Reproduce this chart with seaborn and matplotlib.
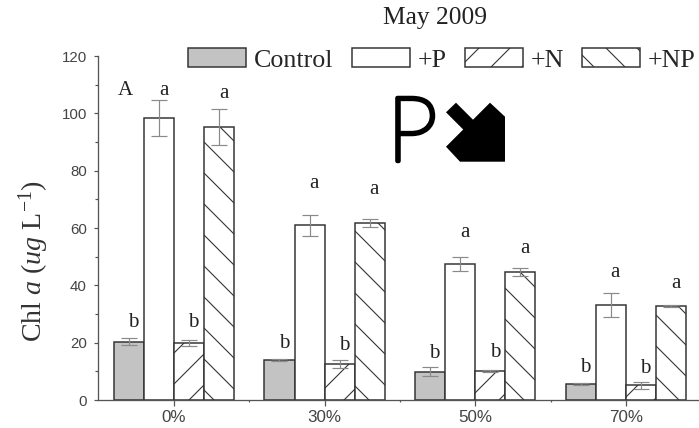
import matplotlib
matplotlib.use("Agg")
import matplotlib.pyplot as plt
import matplotlib.patheffects as pe
from matplotlib.patches import Patch, Polygon
from matplotlib.ticker import MultipleLocator, FixedLocator
import pandas as pd
import seaborn as sns

# ---- data -------------------------------------------------------------
shading = ["0%", "30%", "50%", "70%"]
treatments = ["Control", "+P", "+N", "+NP"]

chl_control = [20.3, 14.0, 9.9, 5.6]
chl_p = [98.5, 60.9, 47.4, 33.1]
chl_n = [19.8, 12.6, 10.2, 5.2]
chl_np = [95.1, 61.6, 44.6, 32.8]

err_control = [1.2, 0.4, 1.7, 0.5]
err_p = [6.3, 3.8, 2.5, 4.2]
err_n = [1.0, 1.4, 0.4, 1.2]
err_np = [6.3, 1.4, 1.5, 0.5]

sig_control = ["b", "b", "b", "b"]
sig_p = ["a", "a", "a", "a"]
sig_n = ["b", "b", "b", "b"]
sig_np = ["a", "a", "a", "a"]

sig_y_control = [25.5, 18.1, 14.6, 9.8]
sig_y_p = [106.4, 74.0, 56.9, 42.9]
sig_y_n = [25.5, 17.4, 15.0, 9.4]
sig_y_np = [105.3, 71.9, 51.3, 39.0]

# ---- styling ----------------------------------------------------------
DPI = 186
W_PX, H_PX = 699, 428


def pt(px):
    """Convert a pixel size to points at the figure resolution."""
    return px * 72.0 / DPI


sns.set_style("ticks")
plt.rcParams["font.family"] = ["Liberation Serif", "DejaVu Serif"]
plt.rcParams["mathtext.fontset"] = "custom"
plt.rcParams["mathtext.rm"] = "Liberation Serif"
plt.rcParams["mathtext.it"] = "Liberation Serif:italic"
plt.rcParams["hatch.linewidth"] = pt(1.1)

EDGE = "#333333"
AXIS = "#555555"
colors = {"Control": "#c3c3c3", "+P": "white", "+N": "white", "+NP": "white"}
hatches = {"Control": "", "+P": "", "+N": "//", "+NP": "\\\\"}

values = {"Control": chl_control, "+P": chl_p, "+N": chl_n, "+NP": chl_np}
errors = {"Control": err_control, "+P": err_p, "+N": err_n, "+NP": err_np}
sig = {"Control": sig_control, "+P": sig_p, "+N": sig_n, "+NP": sig_np}
sig_y = {"Control": sig_y_control, "+P": sig_y_p, "+N": sig_y_n, "+NP": sig_y_np}

df = pd.DataFrame(
    [(s, t, values[t][i]) for t in treatments for i, s in enumerate(shading)],
    columns=["shade", "treatment", "chl"],
)

fig = plt.figure(figsize=(W_PX / DPI, H_PX / DPI), dpi=DPI)
ax = fig.add_axes([98 / W_PX, 28 / H_PX, 601 / W_PX, 344 / H_PX])

sns.barplot(
    data=df, x="shade", y="chl", hue="treatment",
    order=shading, hue_order=treatments, palette=colors,
    errorbar=None, width=0.8, gap=0, saturation=1, legend=False,
    edgecolor=EDGE, linewidth=pt(1.5), ax=ax,
)

for treat, cont in zip(treatments, ax.containers):
    xs, ys = [], []
    for bar in cont:
        bar.set_hatch(hatches[treat])
        xs.append(bar.get_x() + bar.get_width() / 2)
        ys.append(bar.get_height())
    ax.errorbar(xs, ys, yerr=errors[treat], fmt="none", ecolor="#8a8a8a",
                elinewidth=pt(1.2), capsize=pt(8), capthick=pt(1.2), zorder=3)
    for x, lab, ly in zip(xs, sig[treat], sig_y[treat]):
        ax.text(x + 0.03, ly, lab, ha="center", va="baseline",
                fontsize=pt(21), color="#222222")

ax.text(-0.32, 106.4, "A", ha="center", va="baseline", fontsize=pt(21),
        color="#222222")

# ---- axes -------------------------------------------------------------
ax.set_xlim(-0.505, 3.486)
ax.set_ylim(0, 120)
ax.yaxis.set_major_locator(MultipleLocator(20))
ax.yaxis.set_minor_locator(MultipleLocator(10))
ax.xaxis.set_minor_locator(FixedLocator([0.5, 1.5, 2.5]))
ax.set_xlabel("")
ax.set_ylabel("")
sns.despine(ax=ax)
for side in ("left", "bottom"):
    ax.spines[side].set_color(AXIS)
    ax.spines[side].set_linewidth(pt(1.3))

ax.tick_params(axis="y", which="major", length=pt(4), width=pt(1.2),
               color=AXIS, pad=pt(7), labelsize=pt(15), labelcolor="#444444",
               direction="out")
ax.tick_params(axis="y", which="minor", length=pt(3), width=pt(1.2),
               color=AXIS, direction="out")
ax.tick_params(axis="x", which="major", length=pt(6), width=pt(1.2),
               color=AXIS, pad=pt(4), labelsize=pt(17), labelcolor="#444444",
               direction="out")
ax.tick_params(axis="x", which="minor", length=pt(2), width=pt(1.2),
               color=AXIS, direction="out")
for lab in ax.get_xticklabels() + ax.get_yticklabels():
    lab.set_family(["Liberation Sans", "DejaVu Sans"])

# ---- texts ------------------------------------------------------------
fig.text(435 / W_PX, 1 - 18 / H_PX, "May 2009", ha="center", va="center",
         fontsize=pt(25.5), color="#222222")
fig.text(33.5 / W_PX, 1 - 261 / H_PX, r"Chl $a$ ($ug$ L$^{-1}$)",
         rotation=90, ha="center", va="center", fontsize=pt(28),
         color="#333333")

handles = [Patch(facecolor=colors[t], edgecolor=EDGE, hatch=hatches[t],
                 linewidth=pt(1.5)) for t in treatments]
LEG_FS = 26
fig.legend(handles, treatments, ncol=4, loc="center",
           bbox_to_anchor=(442 / W_PX, 1 - 60 / H_PX),
           bbox_transform=fig.transFigure, frameon=False,
           fontsize=pt(LEG_FS), handlelength=58 / LEG_FS,
           handleheight=19 / LEG_FS, handletextpad=8 / LEG_FS,
           columnspacing=18 / LEG_FS, borderpad=0, borderaxespad=0)

# ---- hand-drawn note: P with a down-right arrow -------------------------
fig.text(387 / W_PX, 1 - 161 / H_PX, "P", ha="left", va="baseline",
         fontsize=pt(90), family=["Lato", "DejaVu Sans"], fontweight="light",
         color="black",
         path_effects=[pe.withStroke(linewidth=pt(4.5), foreground="black",
                                     capstyle="round", joinstyle="round")])

arrow_px = [(456, 102.7), (446, 112.3), (463.2, 129.5), (446, 146.7),
            (460, 161.7), (505, 161.7), (505, 116.7), (490, 102.7),
            (473, 119.7)]
arrow = Polygon([(x / W_PX, 1 - y / H_PX) for x, y in arrow_px],
                closed=True, transform=fig.transFigure,
                facecolor="black", edgecolor="black", linewidth=0)
fig.patches.append(arrow)

fig.savefig("out.png", dpi=DPI)
